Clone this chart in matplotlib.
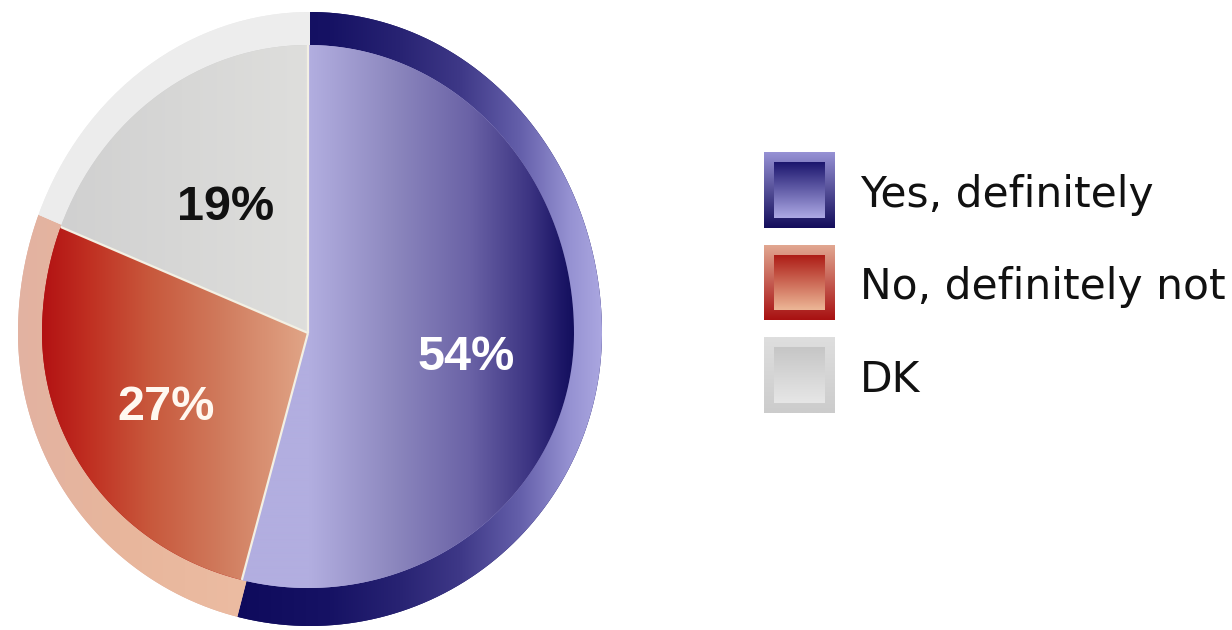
import numpy as np
import matplotlib
matplotlib.use("Agg")
import matplotlib.pyplot as plt
from matplotlib.transforms import Transform
from matplotlib.path import Path
from matplotlib.patches import Rectangle

# ---- data -------------------------------------------------------------
categories = ["Yes, definitely", "No, definitely not", "DK"]
shares = [54, 27, 19]
pct_labels = ["54%", "27%", "19%"]

# ---- styling ----------------------------------------------------------
W, H = 1232, 630
label_colors = ["#ffffff", "#fff8f0", "#111111"]

# horizontal colour stops (pixel x, rgb) for the pie top and the rim
top_stops = [
    [(310, (178, 174, 224)), (395, (140, 135, 190)), (470, (106, 98, 166)),
     (530, (60, 52, 130)), (560, (30, 24, 104)), (580, (14, 10, 88))],
    [(40, (178, 16, 18)), (90, (192, 48, 34)), (150, (200, 88, 60)),
     (220, (208, 122, 92)), (305, (224, 164, 134))],
    [(60, (208, 208, 208)), (305, (222, 222, 220))],
]
rim_stops = [
    [(235, (14, 10, 92)), (330, (22, 18, 100)), (400, (40, 35, 115)),
     (460, (62, 56, 135)), (520, (100, 95, 170)), (570, (150, 146, 210)),
     (610, (176, 172, 228))],
    [(10, (226, 178, 162)), (120, (232, 182, 156)), (250, (236, 188, 162))],
    [(0, (236, 236, 236)), (320, (238, 238, 238))],
]
# legend swatches: (frame top, frame bottom, inner top, inner bottom)
swatch_cols = [
    ((150, 145, 212), (20, 14, 92), (28, 22, 110), (172, 168, 228)),
    ((226, 168, 146), (168, 18, 18), (172, 26, 20), (236, 182, 150)),
    ((222, 222, 222), (204, 204, 204), (198, 198, 198), (230, 230, 230)),
]
label_radius = [0.60, 0.60, 0.55]


class EllipseWarp(Transform):
    """Maps the unit pie to pixel space: an ellipse whose upper and lower
    halves have different heights (y axis pointing down)."""
    input_dims = 2
    output_dims = 2
    is_separable = False
    has_inverse = False

    def __init__(self, cx, cy, sx, sy_up, sy_down):
        super().__init__()
        self.cx, self.cy = cx, cy
        self.sx, self.sy_up, self.sy_down = sx, sy_up, sy_down

    def transform_non_affine(self, values):
        v = np.asarray(values, dtype=float).reshape(-1, 2)
        x = self.cx + self.sx * v[:, 0]
        sy = np.where(v[:, 1] > 0, self.sy_up, self.sy_down)
        y = self.cy - sy * v[:, 1]
        return np.column_stack([x, y])

    def transform_path_non_affine(self, path):
        closed = path.codes is not None and np.any(path.codes == Path.CLOSEPOLY)
        big = Path(path.vertices * 1000.0, path.codes)
        polys = [p / 1000.0 for p in big.to_polygons(closed_only=False)]
        parts = [Path(self.transform_non_affine(p), closed=closed) for p in polys]
        return Path.make_compound_path(*parts)


def h_gradient(stops, x0, x1, ny=4):
    xs = np.arange(x0, x1) + 0.5
    px = [s[0] for s in stops]
    rgb = np.stack([np.interp(xs, px, [s[1][c] for s in stops]) for c in range(3)], axis=-1)
    return np.repeat(rgb[None, :, :], ny, axis=0) / 255.0


def v_gradient(c_top, c_bot, n=64):
    t = np.linspace(0, 1, n)[:, None]
    rgb = (1 - t) * np.array(c_top) + t * np.array(c_bot)
    return rgb[:, None, :] / 255.0


fig = plt.figure(figsize=(W / 100, H / 100), dpi=100)
ax = fig.add_axes([0, 0, 1, 1])

rim_warp = EllipseWarp(310, 333, 292, 321, 293)
top_warp = EllipseWarp(308, 333, 266, 288, 255)

# rim (outer band) and top face of the pie, both from the same shares
rim_wedges, _ = ax.pie(shares, startangle=90, counterclock=False, radius=1.0,
                       frame=True, wedgeprops=dict(linewidth=0))
top_wedges, _ = ax.pie(shares, startangle=90, counterclock=False, radius=1.0,
                       frame=True, wedgeprops=dict(linewidth=0))

for i in range(len(shares)):
    rw, tw = rim_wedges[i], top_wedges[i]
    rw.set_transform(rim_warp + ax.transData)
    tw.set_transform(top_warp + ax.transData)
    rw.set_facecolor(np.array(rim_stops[i][0][1]) / 255)
    tw.set_facecolor(np.array(top_stops[i][0][1]) / 255)
    rw.set_zorder(1)
    tw.set_zorder(3)

    im = ax.imshow(h_gradient(rim_stops[i], 0, 620), extent=(0, 620, 630, 0),
                   origin="upper", interpolation="bilinear", aspect="auto", zorder=2)
    im.set_clip_path(rw)
    im = ax.imshow(h_gradient(top_stops[i], 0, 620), extent=(0, 620, 630, 0),
                   origin="upper", interpolation="bilinear", aspect="auto", zorder=4)
    im.set_clip_path(tw)

# light seams between the slices of the top face
for i, tw in enumerate(top_wedges):
    t = np.deg2rad(tw.theta1)
    ax.plot([0, np.cos(t)], [0, np.sin(t)], color="#f3f0e4", lw=1.6,
            transform=top_warp + ax.transData, zorder=5, solid_capstyle="butt")

# percentage labels
for i, tw in enumerate(top_wedges):
    mid = np.deg2rad(0.5 * (tw.theta1 + tw.theta2))
    r = label_radius[i]
    px, py = top_warp.transform([[r * np.cos(mid), r * np.sin(mid)]])[0]
    ax.text(px, py + 18, pct_labels[i], ha="center", va="baseline",
            fontsize=35, fontweight="bold", family="Liberation Sans",
            color=label_colors[i], zorder=6)

# legend
for i, name in enumerate(categories):
    cy = 190 + i * 92.5
    x0, y0, w, h = 764, cy - 38, 71, 76
    frame = Rectangle((x0, y0), w, h, facecolor="none", edgecolor="none")
    ax.add_patch(frame)
    ft, fb, it, ib = swatch_cols[i]
    im = ax.imshow(v_gradient(ft, fb), extent=(x0, x0 + w, y0 + h, y0),
                   origin="upper", interpolation="bilinear", aspect="auto", zorder=2)
    im.set_clip_path(frame)
    inner = Rectangle((x0 + 10, y0 + 10), w - 20, h - 20, facecolor="none", edgecolor="none")
    ax.add_patch(inner)
    im = ax.imshow(v_gradient(it, ib), extent=(x0 + 10, x0 + w - 10, y0 + h - 10, y0 + 10),
                   origin="upper", interpolation="bilinear", aspect="auto", zorder=3)
    im.set_clip_path(inner)
    ax.text(860, cy + 17, name, ha="left", va="baseline", fontsize=30.5,
            family="DejaVu Sans", color="#111111", zorder=6)

ax.set_xlim(0, W)
ax.set_ylim(H, 0)
ax.set_aspect("auto")
ax.axis("off")

fig.savefig("out.png", dpi=100, facecolor="white")
